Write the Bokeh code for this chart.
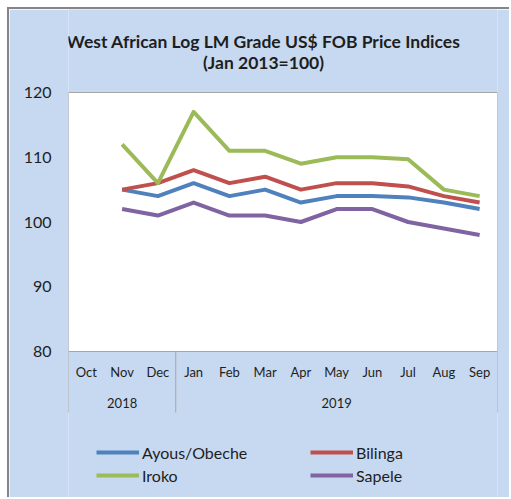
import numpy as np
from bokeh.plotting import figure
from bokeh.models import Range1d, FixedTicker, Legend, LegendItem, ColumnDataSource
from bokeh.core.properties import value
from bokeh.embed import file_html
from bokeh.resources import INLINE

# ---- data ----
months = ["Oct", "Nov", "Dec", "Jan", "Feb", "Mar", "Apr", "May", "Jun", "Jul", "Aug", "Sep"]
years = ["2018", "2019"]
year_spans = [(1, 3), (4, 12)]  # month index ranges per year
ayous = [np.nan, 105, 104, 106, 104, 105, 103, 104, 104, 103.8, 103, 102]
bilinga = [np.nan, 105, 106, 108, 106, 107, 105, 106, 106, 105.5, 104, 103]
iroko = [np.nan, 112, 106, 117, 111, 111, 109, 110, 110, 109.7, 105, 104]
sapele = [np.nan, 102, 101, 103, 101, 101, 100, 102, 102, 100, 99, 98]
yticks = [80, 90, 100, 110, 120]
title_lines = ["West African Log LM Grade US$ FOB Price Indices", "(Jan 2013=100)"]

FONT = "Lato"
BG = "#c6d9f1"
TXT = "#1e1e1e"

x = list(range(1, len(months) + 1))
px_per_unit = 259 / 40.0
y_top = 120 + (92 - 9) / px_per_unit
y_bot = 80 - (499 - 351) / px_per_unit

p = figure(width=502, height=490, output_backend="svg", toolbar_location=None,
           x_range=Range1d(0.5, 12.5), y_range=Range1d(y_bot, y_top),
           x_axis_type=None, min_border_left=59, min_border_right=14,
           min_border_top=0, min_border_bottom=0, margin=(7, 0, 0, 7))
p.background_fill_color = BG
p.border_fill_color = BG
p.outline_line_color = None
p.styles = {"border-top": "2px solid #858585", "border-left": "2px solid #858585"}

# plot area
p.quad(left=[0.5], right=[12.5], bottom=[yticks[0]], top=[yticks[-1]],
       fill_color="white", line_color="#a6a6a6", line_width=1)

# y axis
p.yaxis.ticker = FixedTicker(ticks=yticks)
p.yaxis.axis_line_color = None
p.yaxis.major_tick_line_color = None
p.yaxis.minor_tick_line_color = None
p.yaxis.major_label_standoff = 11
p.yaxis.major_label_text_font = FONT
p.yaxis.major_label_text_font_size = "16px"
p.yaxis.major_label_text_color = TXT
p.xgrid.visible = False
p.ygrid.ticker = FixedTicker(ticks=yticks[1:-1])
p.ygrid.grid_line_color = "#a6a6a6"
p.ygrid.grid_line_width = 1
p.ygrid.level = "underlay"

# category axis (months / years)
y_month = 80 - (371.5 - 351) / px_per_unit
y_year = 80 - (402.5 - 351) / px_per_unit
y_sep = 80 - (412 - 351) / px_per_unit
p.text(x=x, y=[y_month] * len(x), text=months, text_font=value(FONT),
       text_font_size="13px", text_color=TXT, text_align="center",
       text_baseline="middle")
yc = [(a + b) / 2 for a, b in year_spans]
p.text(x=yc, y=[y_year] * len(yc), text=years, text_font=value(FONT),
       text_font_size="13px", text_color=TXT, text_align="center",
       text_baseline="middle")
sep_x = [year_spans[0][0] - 0.5] + [b + 0.5 for a, b in year_spans]
p.segment(x0=sep_x, y0=[yticks[0]] * len(sep_x), x1=sep_x, y1=[y_sep] * len(sep_x),
          line_color="#a6a6a6", line_width=1)

# title
tx = 0.5 + (263 - 68) / 35.75
ty = [120 + (92 - 41) / px_per_unit, 120 + (92 - 62) / px_per_unit]
p.text(x=[tx, tx], y=ty, text=title_lines, text_font=value(FONT),
       text_font_size="17.5px", text_font_style="bold", text_color=TXT,
       text_align="center", text_baseline="alphabetic")

# series
series = [("Ayous/Obeche", ayous, "#4f81bd"), ("Bilinga", bilinga, "#c0504d"),
          ("Iroko", iroko, "#9bbb59"), ("Sapele", sapele, "#8064a2")]
rends = {}
for name, vals, col in series:
    src = ColumnDataSource(dict(x=x, y=vals))
    rends[name] = p.line("x", "y", source=src, line_color=col, line_width=4,
                         line_join="round")

def mk_legend(names, loc):
    lg = Legend(items=[LegendItem(label=n, renderers=[rends[n]]) for n in names],
                location=loc, orientation="vertical")
    lg.background_fill_alpha = 0
    lg.border_line_color = None
    lg.padding = 0
    lg.margin = 0
    lg.spacing = 3
    lg.glyph_width = 43
    lg.glyph_height = 20
    lg.label_height = 20
    lg.label_standoff = 3
    lg.label_text_font = FONT
    lg.label_text_font_size = "16px"
    lg.label_text_color = TXT
    return lg

p.add_layout(mk_legend(["Ayous/Obeche", "Iroko"], (28, 14)))
p.add_layout(mk_legend(["Bilinga", "Sapele"], (242, 14)))

open("out.html", "w").write(file_html(p, INLINE))
